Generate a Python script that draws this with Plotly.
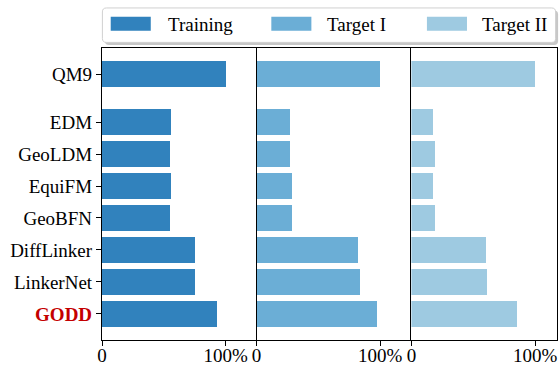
import plotly.graph_objects as go

# ---------------- data ----------------
methods = ["QM9", "EDM", "GeoLDM", "EquiFM", "GeoBFN", "DiffLinker", "LinkerNet", "GODD"]
positions = [7.5, 6, 5, 4, 3, 2, 1, 0]
series_names = ["Training", "Target I", "Target II"]
training = [1.00, 0.56, 0.55, 0.56, 0.55, 0.75, 0.75, 0.93]
target1 = [1.00, 0.27, 0.27, 0.285, 0.28, 0.82, 0.835, 0.975]
target2 = [1.00, 0.175, 0.19, 0.175, 0.197, 0.605, 0.612, 0.855]
series_values = [training, target1, target2]
colors = ["#3182bd", "#6baed6", "#9ecae1"]
x_tickvals = [0, 1]
x_ticktext = ["0", "100%"]

# ---------------- layout geometry (px) ----------------
W, H = 559, 366
L, R, T, B = 102.3, 556.7, 48.3, 340.0
PW, PH = R - L, B - T
FONT = "Liberation Serif, Times New Roman, serif"

def px2x(px):
    return (px - L) / PW

def px2y(py):
    return (B - py) / PH

panel_px = [(102.3, 256.7), (256.7, 411.3), (411.3, 556.7)]
px_per_unit = [123.4, 123.3, 123.7]

ytext = []
for m in methods:
    if m == "GODD":
        ytext.append("<b><span style='color:#c40000'>GODD</span></b>")
    else:
        ytext.append(m)

fig = go.Figure()
for i, (name, vals, col) in enumerate(zip(series_names, series_values, colors)):
    sfx = "" if i == 0 else str(i + 1)
    fig.add_trace(go.Bar(
        x=vals, y=positions, orientation="h", width=0.8,
        marker=dict(color=col, line=dict(width=0)),
        name=name, showlegend=False,
        xaxis="x" + sfx, yaxis="y" + sfx,
    ))

layout = dict(
    width=W, height=H,
    margin=dict(l=L, r=W - R, t=T, b=H - B, pad=0, autoexpand=False),
    plot_bgcolor="white", paper_bgcolor="white",
    font=dict(family=FONT, size=19, color="black"),
    bargap=0,
    showlegend=False,
)

for i in range(3):
    sfx = "" if i == 0 else str(i + 1)
    x0, x1 = panel_px[i]
    xmax = (x1 - x0) / px_per_unit[i]
    layout["xaxis" + sfx] = dict(
        domain=[px2x(x0), px2x(x1)], range=[0, xmax],
        anchor="y" + sfx, automargin=False,
        tickvals=x_tickvals, ticktext=x_ticktext,
        ticks="outside", ticklen=5, tickwidth=1.2, tickcolor="black",
        ticklabelstandoff=-7,
        showline=True, linecolor="black", linewidth=1.2, mirror=True,
        showgrid=False, zeroline=False,
        tickfont=dict(family=FONT, size=19, color="black"),
    )
    yax = dict(
        domain=[0, 1], range=[-0.815, 8.315], anchor="x" + sfx, automargin=False,
        showline=True, linecolor="black", linewidth=1.2,
        mirror=(i == 2),
        showgrid=False, zeroline=False,
    )
    if i == 0:
        yax.update(tickvals=positions, ticktext=ytext,
                   ticks="outside", ticklen=5, tickwidth=1.2, tickcolor="black",
                   tickfont=dict(family=FONT, size=19, color="black"))
    else:
        yax.update(showticklabels=False, ticks="", matches="y")
    layout["yaxis" + sfx] = yax

fig.update_layout(**layout)

# ---------------- manual legend ----------------
def rounded_path(x0, y0, x1, y1, r):
    pts = [
        ("M", px2x(x0 + r), px2y(y0)),
        ("L", px2x(x1 - r), px2y(y0)),
        ("Q", px2x(x1), px2y(y0), px2x(x1), px2y(y0 + r)),
        ("L", px2x(x1), px2y(y1 - r)),
        ("Q", px2x(x1), px2y(y1), px2x(x1 - r), px2y(y1)),
        ("L", px2x(x0 + r), px2y(y1)),
        ("Q", px2x(x0), px2y(y1), px2x(x0), px2y(y1 - r)),
        ("L", px2x(x0), px2y(y0 + r)),
        ("Q", px2x(x0), px2y(y0), px2x(x0 + r), px2y(y0)),
    ]
    s = ""
    for p in pts:
        s += p[0] + " " + " ".join(f"{v:.5f}" for v in p[1:]) + " "
    return s + "Z"

lx0, ly0, lx1, ly1 = 102.7, 8.3, 555.3, 42.7
shapes = [
    dict(type="path", xref="paper", yref="paper",
         path=rounded_path(lx0 + 2.5, ly0 + 2.5, lx1 + 2.5, ly1 + 2.5, 4),
         fillcolor="rgba(0,0,0,0.22)", line=dict(width=0)),
    dict(type="path", xref="paper", yref="paper",
         path=rounded_path(lx0, ly0, lx1, ly1, 4),
         fillcolor="white", line=dict(color="#d0d0d0", width=1)),
]
patch_x = [111, 271.4, 426.8]
text_x = [166.5, 325.5, 480.0]
for i, (name, col) in enumerate(zip(series_names, colors)):
    shapes.append(dict(type="rect", xref="paper", yref="paper",
                       x0=px2x(patch_x[i]), x1=px2x(patch_x[i] + 40),
                       y0=px2y(31), y1=px2y(17),
                       fillcolor=col, line=dict(width=0)))
    fig.add_annotation(x=px2x(text_x[i]), y=px2y(24.5), xref="paper", yref="paper",
                       text=name, showarrow=False, xanchor="left", yanchor="middle",
                       font=dict(family=FONT, size=19, color="black"))
fig.update_layout(shapes=shapes)

fig.write_html("out.html")
